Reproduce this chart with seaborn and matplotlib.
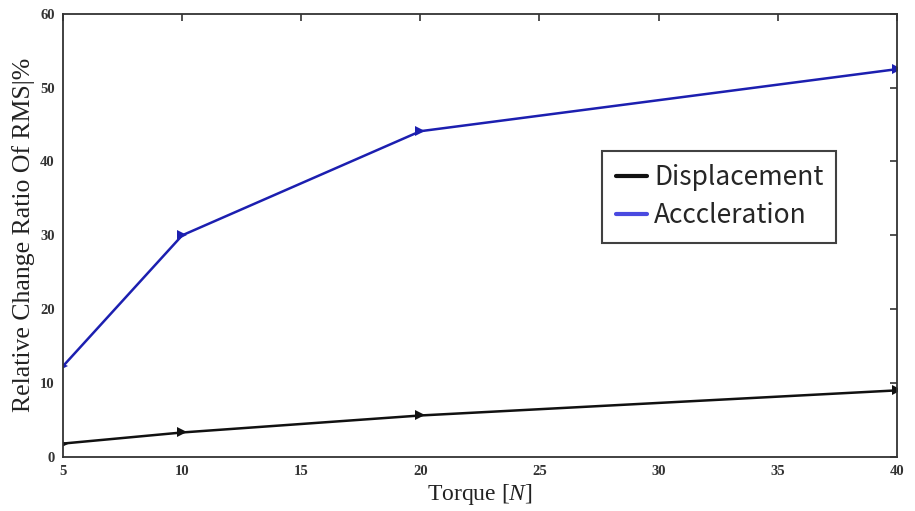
import matplotlib
matplotlib.use("Agg")
import matplotlib.pyplot as plt
from matplotlib.lines import Line2D
import seaborn as sns
import pandas as pd

torque = [5, 10, 20, 40]
displacement = [1.8, 3.3, 5.6, 9.0]
acceleration = [12.3, 30.0, 44.1, 52.5]
series_names = ["Displacement", "Acccleration"]
x_ticks = [5, 10, 15, 20, 25, 30, 35, 40]
y_ticks = [0, 10, 20, 30, 40, 50, 60]

df = pd.DataFrame({
    "Torque": torque * 2,
    "Value": displacement + acceleration,
    "Series": [series_names[0]] * len(torque) + [series_names[1]] * len(torque),
})

sns.set_theme(style="white")
plt.rcParams["font.family"] = ["Liberation Serif", "DejaVu Serif"]
plt.rcParams["mathtext.fontset"] = "custom"
plt.rcParams["mathtext.rm"] = "Liberation Serif"
plt.rcParams["mathtext.it"] = "Liberation Serif:italic"

fig = plt.figure(figsize=(9.15, 5.11), dpi=100)
ax = fig.add_axes([0.069, 0.106, 0.911, 0.867])

line_colors = {series_names[0]: "#111111", series_names[1]: "#1c1fb0"}
sns.lineplot(data=df, x="Torque", y="Value", hue="Series", palette=line_colors,
             marker=">", markersize=7, markeredgewidth=0, linewidth=1.8,
             ax=ax, legend=False)

ax.set_xlim(5, 40)
ax.set_ylim(0, 60)
ax.set_xticks(x_ticks)
ax.set_yticks(y_ticks)
ax.tick_params(axis="both", which="both", direction="in", length=5, width=1.2,
               top=True, right=True, labelsize=10.5, colors="#333333", pad=6)
for lab in ax.get_xticklabels() + ax.get_yticklabels():
    lab.set_fontweight("bold")
for sp in ax.spines.values():
    sp.set_color("#333333")
    sp.set_linewidth(1.3)

ax.set_xlabel("Torque [$\\mathit{N}$]", fontsize=17, color="#222222", labelpad=3)
ax.set_ylabel("Relative Change Ratio Of RMS|%", fontsize=18.5, color="#222222", labelpad=4)

handles = [Line2D([], [], color="#111111", linewidth=3),
           Line2D([], [], color="#4a4ae0", linewidth=3)]
leg = ax.legend(handles, series_names, loc="upper left",
                bbox_to_anchor=(0.647, 0.69), frameon=True, fancybox=False,
                handlelength=1.2, handletextpad=0.25, borderpad=0.5,
                labelspacing=0.42, borderaxespad=0,
                prop={"family": "Noto Sans CJK SC", "size": 19})
leg.get_frame().set_edgecolor("#111111")
leg.get_frame().set_linewidth(1.5)

fig.savefig("out.png", dpi=100)
